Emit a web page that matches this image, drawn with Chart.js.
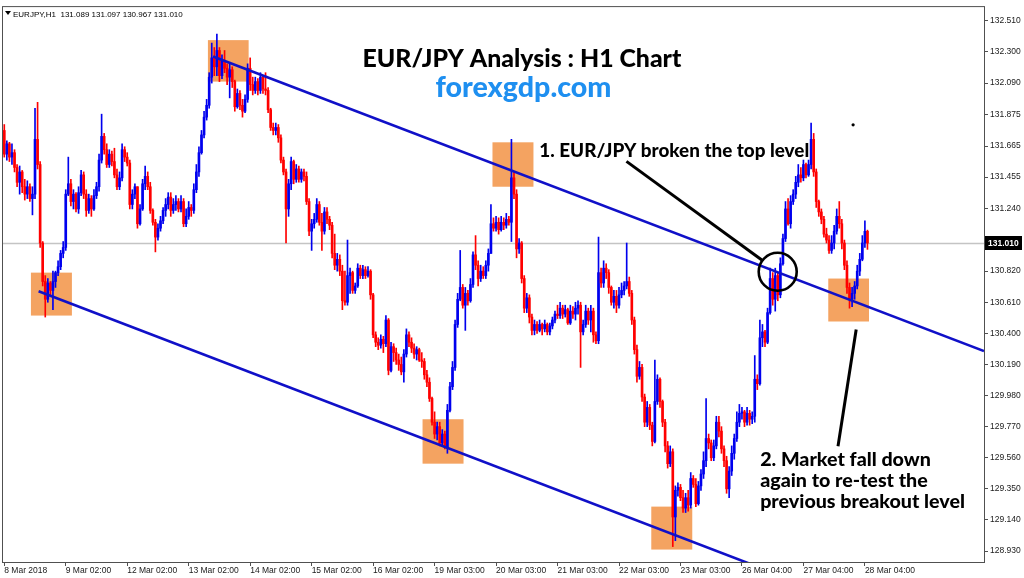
<!DOCTYPE html>
<html lang="en">
<head>
<meta charset="UTF-8">
<title>EUR/JPY Analysis : H1 Chart</title>
<script src="https://cdn.jsdelivr.net/npm/chart.js@4"></script>
<style>
  body { margin: 0; background: #fff; }
  #wrap { width: 1024px; height: 578px; }
</style>
</head>
<body>
<div id="wrap"><canvas id="chart" width="1024" height="578"></canvas></div>
<script>
// EURJPY H1 bars, 8 Mar 2018 02:00 -> 28 Mar 2018 05:00
const symbol = 'EURJPY,H1';
const firstOpen = 131.77;

const closes = [
  131.61,131.68,131.59,131.62,131.52,131.42,131.49,131.39,131.34,131.39,131.31,131.34,
  131.71,131.54,131.01,130.75,130.63,130.74,130.69,130.75,130.81,130.85,130.94,130.98,
  131.34,131.41,131.29,131.34,131.24,131.35,131.47,131.34,131.23,131.31,131.24,131.33,
  131.39,131.57,131.73,131.64,131.54,131.61,131.56,131.47,131.39,131.45,131.64,131.59,
  131.55,131.27,131.34,131.39,131.14,131.24,131.41,131.46,131.39,131.23,131.15,131.05,
  131.11,131.16,131.23,131.27,131.32,131.23,131.27,131.29,131.24,131.29,131.14,131.19,
  131.25,131.23,131.37,131.49,131.62,131.74,131.86,131.94,132.13,132.26,132.20,132.31,
  132.14,132.24,132.19,132.13,132.18,132.10,131.93,132.02,131.94,131.90,131.98,132.19,
  132.08,132.04,132.10,132.04,132.13,132.05,132.04,131.91,131.79,131.77,131.79,131.72,
  131.57,131.49,131.24,131.41,131.56,131.44,131.51,131.44,131.49,131.46,131.29,131.09,
  131.14,131.17,131.27,131.15,131.09,131.22,131.17,131.13,130.94,130.86,130.90,130.82,
  130.62,130.61,130.79,130.81,130.69,130.72,130.84,130.79,130.83,130.79,130.82,130.66,
  130.39,130.34,130.32,130.36,130.33,130.49,130.15,130.31,130.27,130.22,130.19,130.14,
  130.26,130.39,130.34,130.30,130.26,130.29,130.22,130.21,130.12,130.07,129.96,129.80,
  129.72,129.77,129.66,129.72,129.63,129.88,130.04,130.17,130.46,130.63,130.71,130.59,
  130.67,130.62,130.73,130.93,130.86,130.77,130.82,130.79,130.86,130.94,131.14,131.11,
  131.15,131.10,131.15,131.13,131.17,131.15,131.45,131.34,130.97,131.01,130.77,130.57,
  130.64,130.51,130.42,130.46,130.42,130.46,130.43,130.46,130.41,130.45,130.49,130.53,
  130.52,130.57,130.53,130.56,130.47,130.55,130.53,130.57,130.59,130.41,130.46,130.55,
  130.49,130.55,130.39,130.35,130.81,130.74,130.84,130.81,130.71,130.61,130.65,130.59,
  130.66,130.69,130.72,130.75,130.67,130.49,130.29,130.11,130.17,129.97,129.80,129.90,
  129.78,129.67,129.94,130.09,129.94,129.80,129.64,129.52,129.60,129.16,129.34,129.36,
  129.29,129.22,129.29,129.24,129.42,129.38,129.25,129.37,129.45,129.54,129.69,129.66,
  129.56,129.64,129.80,129.74,129.62,129.54,129.35,129.47,129.59,129.69,129.80,129.86,
  129.87,129.80,129.86,129.82,129.84,130.09,130.06,130.37,130.41,130.34,130.54,130.77,
  130.63,130.79,130.66,130.87,131.04,131.24,131.14,131.29,131.34,131.42,131.47,131.45,
  131.54,131.47,131.54,131.71,131.49,131.29,131.22,131.17,131.07,131.03,130.96,131.01,
  131.09,131.19,131.14,131.01,130.86,130.71,130.63,130.67,130.72,130.82,130.90,131.01,
  131.089,131.010
];

const highs = [
  131.81,131.70,131.69,131.68,131.64,131.54,131.53,131.50,131.44,131.43,131.41,131.39,
  131.92,131.96,131.56,131.02,130.79,130.77,130.75,130.82,130.82,130.89,130.96,131.02,
  131.37,131.59,131.44,131.37,131.35,131.39,131.50,131.49,131.37,131.34,131.33,131.37,
  131.42,131.61,131.88,131.75,131.68,131.64,131.63,131.65,131.51,131.49,131.68,131.66,
  131.62,131.57,131.37,131.41,131.39,131.27,131.44,131.53,131.49,131.42,131.24,131.17,
  131.14,131.19,131.25,131.31,131.35,131.35,131.31,131.33,131.31,131.33,131.31,131.24,
  131.29,131.27,131.41,131.54,131.66,131.77,131.90,131.98,132.16,132.36,132.33,132.42,
  132.33,132.28,132.31,132.22,132.22,132.20,132.11,132.05,132.04,131.98,132.01,132.22,
  132.26,132.13,132.13,132.12,132.16,132.14,132.16,132.06,131.92,131.82,131.82,131.81,
  131.74,131.59,131.51,131.44,131.59,131.57,131.54,131.53,131.51,131.51,131.49,131.31,
  131.17,131.21,131.31,131.29,131.21,131.25,131.25,131.19,131.15,131.07,130.94,130.93,
  130.86,130.82,131.03,130.84,130.82,130.74,130.87,130.86,130.86,130.85,130.85,130.83,
  130.67,130.41,130.37,130.39,130.38,130.52,130.50,130.34,130.33,130.30,130.26,130.24,
  130.29,130.43,130.41,130.37,130.33,130.31,130.30,130.27,130.23,130.15,130.10,129.97,
  129.87,129.80,129.80,129.75,129.74,129.92,130.07,130.21,130.49,130.67,130.96,130.73,
  130.71,130.69,130.77,130.95,131.06,130.89,130.86,130.85,130.89,130.97,131.27,131.18,
  131.19,131.18,131.19,131.18,131.21,131.19,131.71,131.49,131.37,131.04,131.02,130.79,
  130.67,130.66,130.53,130.49,130.48,130.49,130.47,130.49,130.47,130.47,130.51,130.55,
  130.59,130.61,130.59,130.59,130.57,130.59,130.58,130.61,130.62,130.61,130.49,130.59,
  130.57,130.59,130.57,130.41,131.05,130.84,130.89,130.87,130.83,130.72,130.69,130.69,
  130.71,130.74,130.75,131.01,130.78,130.69,130.51,130.32,130.21,130.19,129.99,129.94,
  129.92,129.80,130.22,130.12,130.10,129.95,129.82,129.67,129.64,129.62,129.37,129.39,
  129.38,129.34,129.32,129.34,129.46,129.44,129.42,129.40,129.48,129.60,129.96,129.72,
  129.68,129.68,129.84,129.84,129.77,129.64,129.57,129.50,129.64,129.72,129.87,129.92,
  129.90,129.88,129.90,129.88,129.87,130.25,130.12,130.49,130.46,130.42,130.57,130.84,
  130.81,130.84,130.81,130.91,131.07,131.29,131.31,131.33,131.37,131.46,131.54,131.52,
  131.57,131.55,131.57,131.82,131.75,131.51,131.30,131.24,131.19,131.11,131.06,131.06,
  131.13,131.24,131.29,131.17,131.03,130.89,130.74,130.71,130.75,130.86,130.94,131.06,
  131.16,131.097
];

const lows = [
  131.59,131.57,131.56,131.54,131.49,131.39,131.34,131.35,131.30,131.31,131.29,131.20,
  131.31,131.51,130.98,130.72,130.51,130.61,130.66,130.56,130.71,130.79,130.83,130.91,
  130.96,131.33,131.26,131.24,131.22,131.21,131.33,131.31,131.19,131.21,131.19,131.23,
  131.31,131.36,131.55,131.61,131.52,131.52,131.53,131.45,131.37,131.37,131.43,131.56,
  131.53,131.24,131.24,131.31,131.11,131.13,131.23,131.37,131.37,131.21,131.13,130.95,
  131.03,131.09,131.14,131.19,131.24,131.19,131.21,131.23,131.22,131.22,131.12,131.12,
  131.17,131.19,131.21,131.35,131.46,131.61,131.72,131.84,131.92,132.09,132.14,132.14,
  132.10,132.12,132.16,132.08,131.99,132.06,131.90,131.92,131.91,131.86,131.89,131.96,
  132.04,132.01,132.02,132.01,132.02,132.02,132.01,131.89,131.77,131.74,131.74,131.69,
  131.55,131.47,131.01,131.19,131.37,131.41,131.42,131.42,131.42,131.43,131.27,131.06,
  130.96,131.11,131.15,131.13,130.96,131.07,131.14,131.10,130.91,130.83,130.82,130.79,
  130.56,130.59,130.59,130.67,130.67,130.67,130.71,130.77,130.77,130.77,130.78,130.63,
  130.37,130.31,130.29,130.30,130.27,130.31,130.12,130.14,130.21,130.19,130.15,130.12,
  130.07,130.24,130.31,130.27,130.23,130.22,130.21,130.17,130.09,130.04,129.94,129.78,
  129.69,129.68,129.64,129.64,129.62,129.59,129.87,130.02,130.15,130.44,130.62,130.57,
  130.42,130.59,130.61,130.71,130.83,130.72,130.75,130.77,130.77,130.82,130.94,131.09,
  131.09,131.07,131.09,131.10,131.11,131.13,131.02,131.31,130.91,130.94,130.74,130.54,
  130.54,130.47,130.39,130.39,130.40,130.41,130.39,130.41,130.39,130.39,130.43,130.47,
  130.50,130.50,130.50,130.51,130.46,130.46,130.50,130.49,130.53,130.17,130.39,130.44,
  130.46,130.41,130.34,130.33,130.33,130.71,130.71,130.77,130.67,130.59,130.57,130.54,
  130.57,130.64,130.66,130.70,130.65,130.46,130.26,130.07,130.09,129.94,129.77,129.77,
  129.75,129.64,129.66,129.92,129.90,129.77,129.60,129.49,129.50,128.96,129.00,129.30,
  129.27,129.19,129.19,129.20,129.22,129.36,129.23,129.24,129.34,129.42,129.50,129.62,
  129.54,129.54,129.62,129.70,129.59,129.50,129.32,129.29,129.44,129.55,129.67,129.77,
  129.82,129.77,129.78,129.78,129.79,129.80,130.02,130.05,130.31,130.31,130.33,130.53,
  130.59,130.55,130.62,130.64,130.86,131.02,131.13,131.11,131.27,131.31,131.39,131.42,
  131.43,131.45,131.46,131.51,131.46,131.25,131.19,131.14,131.05,131.01,130.94,130.94,
  130.97,131.07,131.11,130.97,130.83,130.67,130.57,130.58,130.63,130.70,130.79,130.89,
  130.98,130.967
];

// time axis labels (MT4 labels every 24 bars)
const xTickIdx = [0, 24, 48, 72, 96, 120, 144, 168, 192, 216, 240, 264, 288, 312, 336];
const xTickText = ['8 Mar 2018', '9 Mar 02:00', '12 Mar 02:00', '13 Mar 02:00', '14 Mar 02:00',
  '15 Mar 02:00', '16 Mar 02:00', '19 Mar 03:00', '20 Mar 03:00', '21 Mar 03:00', '22 Mar 03:00',
  '23 Mar 03:00', '26 Mar 04:00', '27 Mar 04:00', '28 Mar 04:00'];
const yTicks = [132.510, 132.300, 132.090, 131.875, 131.665, 131.455, 131.240, 131.030, 130.820,
  130.610, 130.400, 130.190, 129.980, 129.770, 129.560, 129.350, 129.140, 128.930];

// annotations, in bar index / price
const zones = [
  [10.4, 26.4, 130.81, 130.52],
  [79.5, 95.4, 132.38, 132.10],
  [190.6, 206.6, 131.69, 131.39],
  [163.3, 179.3, 129.82, 129.52],
  [252.6, 268.6, 129.23, 128.94],
  [321.7, 337.6, 130.77, 130.48]
];
const channel = [
  [[81.5, 132.27], [382.5, 130.28]],
  [[13.4, 130.684], [289.3, 128.856]]
];
const breakCircle = [301.96, 130.816];
const pointers = [
  [[242.9, 131.561], [295.9, 130.893]],
  [[332.6, 130.426], [325.5, 129.637]]
];
const dotAt = [331.4, 131.808];

const titleText = 'EUR/JPY Analysis : H1 Chart';
const siteText = 'forexgdp.com';
const note1 = ['1. EUR/JPY broken the top level'];
const note2 = ['2. Market fall down', 'again to re-test the', 'previous breakout level'];

const BULL = '#0000ee';
const BEAR = '#ff0000';
const spareBars = 45;

const opens = closes.map((c, i) => i ? closes[i - 1] : firstOpen);
const labels = [];
for (let i = 0; i < closes.length + spareBars; i++) labels.push(i);
const colors = closes.map((c, i) => c >= opens[i] ? BULL : BEAR);
const wicks = closes.map((c, i) => [Math.min(lows[i], opens[i], c), Math.max(highs[i], opens[i], c)]);
const bodies = closes.map((c, i) => [opens[i], c]);
const last = closes.length - 1;

function fitSize(ctx, lines, width, family) {
  ctx.font = '900 20px ' + family;
  const w = Math.max(...lines.map(t => ctx.measureText(t).width));
  return 20 * width / w;
}

const overlay = {
  id: 'overlay',
  beforeDatasetsDraw(chart) {
    const {ctx, chartArea: a, scales: {x, y}} = chart;
    ctx.save();
    ctx.beginPath();
    ctx.rect(a.left, a.top, a.width, a.height);
    ctx.clip();
    ctx.fillStyle = 'rgb(244,163,97)';
    zones.forEach(z => {
      const x0 = x.getPixelForValue(z[0]), x1 = x.getPixelForValue(z[1]);
      const y0 = y.getPixelForValue(z[2]), y1 = y.getPixelForValue(z[3]);
      ctx.fillRect(x0, y0, x1 - x0, y1 - y0);
    });
    // current price line
    const py = Math.round(y.getPixelForValue(closes[last])) + 0.5;
    ctx.strokeStyle = '#c4c4c4';
    ctx.lineWidth = 1.5;
    ctx.beginPath();
    ctx.moveTo(a.left, py);
    ctx.lineTo(a.right, py);
    ctx.stroke();
    ctx.restore();
  },
  afterDatasetsDraw(chart) {
    const {ctx, chartArea: a, scales: {x, y}} = chart;
    const pt = p => [x.getPixelForValue(p[0]), y.getPixelForValue(p[1])];
    ctx.save();
    ctx.beginPath();
    ctx.rect(a.left, a.top, a.width, a.height);
    ctx.clip();

    // channel lines, drawn as rays to the right edge
    ctx.strokeStyle = '#1010c8';
    ctx.lineWidth = 2.6;
    channel.forEach(([p, q]) => {
      const [x1, y1] = pt(p), [x2, y2] = pt(q);
      const t = (a.right - x1) / (x2 - x1);
      ctx.beginPath();
      ctx.moveTo(x1, y1);
      ctx.lineTo(x1 + t * (x2 - x1), y1 + t * (y2 - y1));
      ctx.stroke();
    });

    // breakout circle and pointer lines
    ctx.strokeStyle = '#000';
    ctx.lineWidth = 2.6;
    const [cx, cy] = pt(breakCircle);
    ctx.beginPath();
    ctx.arc(cx, cy, 19, 0, Math.PI * 2);
    ctx.stroke();
    ctx.lineWidth = 3;
    pointers.forEach(([p, q]) => {
      const [x1, y1] = pt(p), [x2, y2] = pt(q);
      ctx.beginPath();
      ctx.moveTo(x1, y1);
      ctx.lineTo(x2, y2);
      ctx.stroke();
    });
    const [dx, dy] = pt(dotAt);
    ctx.fillStyle = '#000';
    ctx.beginPath();
    ctx.arc(dx, dy, 1.6, 0, Math.PI * 2);
    ctx.fill();

    // texts
    const fam = 'Lato, "Open Sans", sans-serif';
    ctx.textBaseline = 'alphabetic';
    let s = fitSize(ctx, [titleText], 319, fam);
    ctx.font = `900 ${s}px ${fam}`;
    ctx.textAlign = 'center';
    ctx.fillStyle = '#000';
    let [tx, ty] = pt([202.1, 132.196]);
    ctx.fillText(titleText, tx, ty);

    s = fitSize(ctx, [siteText], 176, fam);
    ctx.font = `900 ${s}px ${fam}`;
    ctx.fillStyle = '#1e8ff0';
    [tx, ty] = pt([202.7, 131.995]);
    ctx.fillText(siteText, tx, ty);

    ctx.textAlign = 'left';
    ctx.fillStyle = '#000';
    s = fitSize(ctx, note1, 270, fam);
    ctx.font = `900 ${s}px ${fam}`;
    [tx, ty] = pt([208.9, 131.588]);
    ctx.fillText(note1[0], tx, ty);

    s = fitSize(ctx, note2, 205, fam);
    ctx.font = `900 ${s}px ${fam}`;
    [129.504, 129.364, 129.223].forEach((p, k) => {
      const [lx, ly] = pt([295.1, p]);
      ctx.fillText(note2[k], lx, ly);
    });
    ctx.restore();
  },
  afterDraw(chart) {
    const {ctx, chartArea: a, scales: {y}} = chart;
    ctx.save();
    // frame
    ctx.strokeStyle = '#505050';
    ctx.lineWidth = 1;
    ctx.strokeRect(a.left - 0.5, a.top - 0.5, a.width + 1, a.height + 1);

    // last price tag on the price axis
    const py = Math.round(y.getPixelForValue(closes[last]));
    ctx.fillStyle = '#000';
    ctx.fillRect(a.right + 1, py - 7, 37, 14);
    ctx.fillStyle = '#fff';
    ctx.font = 'bold 8.5px "Liberation Sans", Arial, sans-serif';
    ctx.textBaseline = 'middle';
    ctx.textAlign = 'left';
    ctx.fillText(closes[last].toFixed(3), a.right + 4, py + 0.5);

    // header line
    ctx.fillStyle = '#000';
    ctx.beginPath();
    ctx.moveTo(a.left + 2, a.top + 4);
    ctx.lineTo(a.left + 8, a.top + 4);
    ctx.lineTo(a.left + 5, a.top + 8);
    ctx.closePath();
    ctx.fill();
    ctx.font = '8px "Liberation Sans", Arial, sans-serif';
    ctx.textBaseline = 'alphabetic';
    const head = `${symbol}  ${opens[last].toFixed(3)} ${highs[last].toFixed(3)} ${lows[last].toFixed(3)} ${closes[last].toFixed(3)}`;
    ctx.fillText(head, a.left + 10, a.top + 10);
    ctx.restore();
  }
};

const axisFont = {family: '"Liberation Sans", Arial, sans-serif', size: 8.5};

new Chart(document.getElementById('chart'), {
  type: 'bar',
  data: {
    labels: labels,
    datasets: [
      {
        label: 'body',
        data: bodies,
        backgroundColor: colors,
        barThickness: 2,
        minBarLength: 1,
        grouped: false,
        borderWidth: 0,
        order: 1
      },
      {
        label: 'wick',
        data: wicks,
        backgroundColor: colors,
        barThickness: 1,
        grouped: false,
        borderWidth: 0,
        order: 2
      }
    ]
  },
  options: {
    responsive: false,
    animation: false,
    events: [],
    devicePixelRatio: 1,
    layout: {padding: {left: 3, top: 1, right: 0, bottom: 0}},
    plugins: {legend: {display: false}, tooltip: {enabled: false}, title: {display: false}},
    scales: {
      x: {
        type: 'category',
        offset: true,
        border: {display: false},
        grid: {
          display: true,
          offset: false,
          drawOnChartArea: false,
          tickLength: 4,
          color: c => xTickIdx.includes(c.index) ? '#505050' : 'rgba(0,0,0,0)'
        },
        ticks: {
          autoSkip: false,
          maxRotation: 0,
          minRotation: 0,
          align: 'start',
          padding: 0,
          color: '#202020',
          font: axisFont,
          callback: (v, i) => {
            const k = xTickIdx.indexOf(i);
            return k >= 0 ? xTickText[k] : '';
          }
        },
        afterFit: s => { s.height = 16; }
      },
      y: {
        position: 'right',
        min: 128.856,
        max: 132.603,
        border: {display: false},
        grid: {display: true, drawOnChartArea: false, tickLength: 4, color: '#505050'},
        afterBuildTicks: s => { s.ticks = yTicks.map(v => ({value: v})); },
        ticks: {
          padding: 2,
          color: '#202020',
          font: axisFont,
          callback: v => v.toFixed(3)
        },
        afterFit: s => { s.width = 40; }
      }
    }
  },
  plugins: [overlay]
});
</script>
</body>
</html>
